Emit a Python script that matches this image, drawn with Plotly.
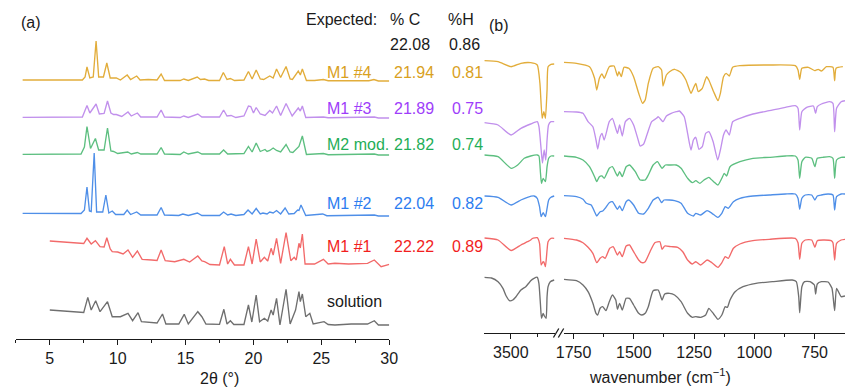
import plotly.graph_objects as go

# ================= DATA =================
# Panel (a): powder XRD patterns, (2theta [deg], intensity [a.u.]) vertices
xrd_m1_4 = [(3.0,1),(7.4,1),(7.6,4),(7.74,14),(7.95,3),(8.2,4),(8.41,40),(8.6,4),(8.95,4),(9.2,18),(9.45,3),(9.9,3),(10.2,1),(10.7,6),(10.95,1.5),(11.4,5),(11.65,1),(12.25,1.5),(12.9,1),(13.2,7),(13.45,0.5),(14.6,0.5),(14.87,2),(15.2,0.5),(15.86,4),(16.1,1.5),(16.4,2),(16.7,0.5),(17.5,0.5),(17.78,8.5),(18.05,1.5),(18.3,2.5),(18.6,0.5),(19.3,1),(19.63,9.5),(19.9,2),(20.2,11),(20.5,2),(20.75,1.5),(21.2,5),(21.45,3),(21.7,12),(22.0,3.5),(22.4,14.5),(22.7,2),(22.87,1.5),(23.3,10),(23.45,6),(23.6,12),(23.9,0.5),(24.5,0.5),(25.15,1.5),(25.5,0.3),(27.0,0.5),(28.5,0.3),(28.87,1.5),(29.2,0),(30.0,0)]
xrd_m1_3 = [(3.0,0.7),(7.4,1),(7.74,12.5),(7.95,5),(8.41,14),(8.65,4),(9.0,4.5),(9.25,17),(9.5,5),(9.7,3.5),(9.9,3.5),(10.3,1.5),(10.76,6),(11.0,2),(11.45,5),(11.7,1),(12.9,1),(13.2,8),(13.45,1),(14.6,0.5),(14.87,2),(15.2,0.5),(15.9,4),(16.2,1),(17.5,1),(17.8,8),(18.05,2),(18.35,2.5),(18.7,0.5),(19.3,2),(19.63,12),(19.8,11.5),(20.0,5),(20.2,10.5),(20.5,4),(20.85,2.5),(21.2,7.5),(21.4,5),(21.7,12),(22.0,2.5),(22.4,14.5),(22.85,2),(23.3,10),(23.45,7),(23.6,12),(23.85,0.5),(25.15,1),(25.5,0.3),(28.9,1),(29.2,0),(30.0,0)]
xrd_m2_mod = [(3.0,0.7),(7.3,1),(7.55,8),(7.74,28.5),(8.0,6.5),(8.36,16.5),(8.6,5),(9.0,5),(9.25,27),(9.5,4),(9.7,3.5),(10.0,1.5),(10.74,3),(11.0,1),(11.45,2.5),(11.7,1),(12.9,1),(13.2,7.5),(13.45,1),(14.6,0.5),(14.87,3),(15.2,1),(15.9,3),(16.2,1),(17.5,1),(17.8,5),(18.1,1),(19.3,1.5),(19.63,8.5),(19.9,3),(20.2,12),(20.5,3.5),(20.85,5.5),(21.0,3.5),(21.2,4.5),(21.45,7),(21.7,4.5),(22.0,3),(22.4,10.5),(22.7,3),(22.9,2.5),(23.35,8.5),(23.6,19),(23.9,0.5),(25.15,1.5),(25.5,0.3),(28.9,1),(29.2,0),(30.0,0)]
xrd_m1_2 = [(3.0,2.7),(7.3,2.5),(7.55,6),(7.74,29),(7.92,5),(8.05,4.5),(8.27,63),(8.45,4),(8.9,4),(9.13,21),(9.35,3),(9.6,5),(9.85,1.5),(10.45,1.5),(10.7,6),(10.95,1.5),(11.4,4),(11.7,1),(12.9,1),(13.2,8.5),(13.45,1),(14.5,0.5),(14.8,2),(15.2,0.5),(15.87,3),(16.2,0.5),(17.5,0.5),(17.8,4),(18.1,1),(18.35,2),(18.7,0.5),(19.3,1.5),(19.6,6),(19.9,2),(20.2,7.5),(20.5,2),(20.7,3),(21.0,2),(21.2,4),(21.45,3),(21.7,5.5),(22.0,2),(22.33,8),(22.6,2),(23.0,2.5),(23.25,6),(23.35,5.5),(23.5,11),(23.85,0.5),(25.1,2),(25.4,0.3),(28.9,1),(29.2,0),(30.0,0)]
xrd_m1_1 = [(5.0,24),(6.8,22.3),(7.5,21.5),(7.74,26.7),(8.05,21),(8.36,24.3),(8.7,18.3),(9.0,18),(9.2,27.3),(9.45,16),(9.6,13.3),(10.0,13),(10.4,11),(10.76,15),(11.1,7.7),(11.45,14),(11.8,5.7),(12.5,5),(12.9,4.5),(13.2,15),(13.5,4.3),(14.2,3.3),(14.87,5.7),(15.3,3),(15.9,9),(16.2,4),(16.4,3.3),(16.8,0.5),(17.5,0),(17.85,18.3),(18.1,1),(18.3,5.7),(18.6,0),(19.3,0),(19.63,18.3),(19.9,1),(20.2,26),(20.5,3),(20.8,7.7),(21.05,4),(21.3,16.7),(21.45,10),(21.7,26.7),(22.0,1.7),(22.4,32.3),(22.75,4.3),(23.0,7.7),(23.15,5),(23.35,21.7),(23.45,17),(23.6,31),(23.8,1),(24.5,1),(25.15,5.7),(25.5,1),(26.0,1.7),(27.0,1),(28.4,1.7),(28.9,5),(29.4,-1.7),(30.0,0.7)]
xrd_solution = [(5.0,15),(6.8,13.3),(7.5,12.5),(7.8,27.7),(8.05,15),(8.38,24.3),(8.7,13.3),(9.25,23.3),(9.6,8.3),(10.2,8.3),(10.76,11.7),(11.1,4.3),(11.5,12.3),(11.75,3.3),(12.5,2.3),(12.9,2),(13.3,11),(13.55,1),(14.5,1),(14.9,10.7),(15.2,1),(15.9,13.3),(16.2,8.3),(16.5,1),(17.5,0.7),(17.82,15.7),(18.05,1),(18.3,4.3),(18.55,0.5),(19.3,0.5),(19.63,20),(19.88,3),(20.2,30),(20.45,3.3),(20.8,6.7),(21.05,4),(21.3,15),(21.45,10),(21.7,26.7),(21.95,0),(22.4,35.7),(22.7,1),(23.1,15),(23.35,33.3),(23.45,23.3),(23.6,31),(23.85,8.3),(24.15,11.7),(24.4,1),(25.2,3.3),(25.5,0.5),(26.0,0),(27.2,1),(28.4,1),(28.9,4.3),(29.2,0),(30.0,0)]

# Panel (b): IR spectra, (wavenumber [cm-1], relative transmittance [a.u.])
ir_m1_4 = [(4000,0.3),(3741,-0.7),(3494,-5.7),(3309,-2.3),(3124,-1.7),(3000,-4),(2950,-22.3),(2907,-57.3),(2876,-50.7),(2846,-57.3),(2815,-29),(2796,-5.7),(2741,-3.3),(2680,-3),
           (1790,-1.3),(1738,-2.3),(1684,-5.7),(1663,-17.3),(1654,-29),(1643,-17.3),(1632,-13),(1623,-17.3),(1602,-5.7),(1582,-5),(1568,-15),(1562,-10.7),(1552,-15.7),(1541,-6.3),(1521,-7.3),(1501,-15.7),(1480,-32.3),(1464,-42.3),(1453,-39),(1440,-22.3),(1420,-7.3),(1399,-5.7),(1385,-9),(1379,-25),(1365,-14),(1352,-10.7),(1331,-8.3),(1304,-11.7),(1284,-19),(1263,-32.3),(1253,-27.3),(1243,-22.3),(1233,-30.7),(1216,-27.3),(1198,-15.7),(1189,-19),(1169,-30.7),(1151,-39.7),(1141,-32.3),(1128,-15.7),(1117,-12.3),(1104,-15),(1090,-6.3),(1060,-4.7),(938,-4),(830,-4.7),(819,-9),(812,-18.3),(803,-7.3),(776,-6.3),(749,-9.7),(735,-8.3),(722,-10),(701,-5.7),(674,-6.3),(667,-19.7),(661,-7.3),(633,-5.7)]
ir_m1_3 = [(4000,-0.7),(3741,-3),(3494,-13),(3309,-6.3),(3124,-2),(3000,0.3),(2968,-4.7),(2926,-28),(2902,-41),(2870,-28),(2839,-38),(2815,-18),(2787,-3),(2741,0.3),(2680,0.3),
           (1790,10.3),(1738,10),(1711,8.7),(1690,0.3),(1670,-4.7),(1657,-18),(1650,-27),(1640,-14.7),(1632,-11.3),(1623,-18),(1602,0.3),(1589,3.7),(1568,-11.3),(1559,-3),(1548,-14),(1535,0.3),(1518,3.7),(1501,-3),(1480,-19.7),(1474,-24),(1460,-22.3),(1446,-13),(1426,0.3),(1406,3.7),(1399,5.3),(1379,0.3),(1365,6),(1345,8.7),(1324,10.3),(1311,11),(1291,5.3),(1277,-11.3),(1263,-28),(1253,-18),(1243,-15.3),(1230,-27.3),(1216,-24.7),(1202,-11.3),(1189,-9.7),(1171,-19.7),(1152,-38),(1141,-28),(1128,-13),(1117,-8),(1104,-13),(1090,0.3),(1060,3.7),(1006,8),(938,11.3),(871,14.7),(830,16.3),(819,13.7),(812,-8),(803,10.3),(783,14.7),(755,16),(746,8.7),(739,15.3),(722,18),(688,20.3),(674,18.7),(667,-9.7),(659,13.7),(640,20.3),(624,21.3)]
ir_m2_mod = [(4000,0),(3741,-1.7),(3494,-13.3),(3370,-10),(3246,-3.3),(3124,-1),(3000,0),(2968,-1),(2939,-18.3),(2920,-28.3),(2889,-23.3),(2846,-26.7),(2815,-11.7),(2784,-3.3),(2741,-1),(2680,-1),
             (1790,-1),(1738,-2.3),(1711,-5),(1684,-11.7),(1663,-21.7),(1654,-26.7),(1643,-21.7),(1632,-21),(1623,-23.3),(1602,-13.3),(1589,-11.7),(1568,-21),(1559,-16.7),(1548,-21.7),(1532,-11.7),(1518,-10),(1494,-16.7),(1474,-25),(1453,-25),(1440,-20),(1420,-10),(1402,-6.7),(1383,-13.3),(1369,-10),(1352,-10),(1324,-10),(1304,-13.3),(1277,-23.3),(1257,-27.7),(1243,-25.7),(1226,-28.3),(1209,-25),(1189,-22.3),(1169,-26.7),(1151,-30),(1135,-23.3),(1125,-18.3),(1115,-21),(1101,-11.7),(1060,-6.7),(1006,-3.3),(938,-2.3),(871,-1),(830,-1),(819,-5),(812,-23.3),(803,-6.7),(789,-2.3),(762,-3.3),(749,-11.7),(739,-3.3),(715,-2.3),(688,-1.7),(674,-3.3),(667,-23.3),(659,-5),(640,-2.3),(624,-2.3)]
ir_m1_2 = [(4000,0),(3741,-1.3),(3494,-9),(3309,-4),(3185,-1.3),(3061,0),(3000,-2.3),(2957,-10.7),(2926,-20.7),(2889,-16.7),(2846,-20.7),(2815,-12.3),(2784,-4),(2741,-1.3),(2680,0),
           (1790,0.3),(1738,-0.7),(1711,-3.3),(1697,-7.3),(1677,-9),(1663,-15.7),(1654,-20),(1640,-15.7),(1629,-15),(1619,-12.3),(1602,-6.7),(1589,-5.7),(1568,-13.3),(1559,-10),(1548,-14.7),(1532,-5.7),(1521,-4),(1501,-9),(1480,-17.3),(1460,-18),(1440,-12.3),(1420,-4),(1399,-1.3),(1385,-6.7),(1375,-4),(1352,-4),(1331,-4.7),(1304,-7.3),(1277,-17.3),(1253,-20),(1243,-17.3),(1223,-19),(1196,-14.7),(1176,-17.3),(1152,-21.3),(1135,-17.3),(1121,-10.7),(1108,-12.3),(1087,-5.7),(1060,-2.3),(1006,0),(938,1),(871,2),(830,2),(819,-2.3),(812,-13.3),(803,-2.3),(789,1),(762,1),(749,-4),(739,0),(722,1),(694,2),(674,1),(667,-14),(659,-0.7),(640,2),(624,2)]
ir_m1_1 = [(4000,0),(3741,-2),(3494,-12.5),(3309,-7),(3185,-3.7),(3124,-2),(3092,-0.5),(3000,0.3),(2957,-5.3),(2926,-27),(2889,-23.7),(2876,-24),(2846,-28.7),(2815,-12),(2796,-3.7),(2741,-0.3),(2680,-0.3),
           (1790,-0.3),(1738,-2),(1711,-4.7),(1690,-9.3),(1670,-15.3),(1654,-24.7),(1640,-20.3),(1629,-18.7),(1619,-20.3),(1600,-10.3),(1586,-8.7),(1568,-17),(1559,-13.7),(1548,-18.7),(1532,-8),(1518,-7),(1501,-13.7),(1480,-22),(1467,-24.7),(1453,-23.7),(1433,-13.7),(1413,-4.7),(1392,-3.7),(1383,-11.3),(1372,-8),(1345,-8.7),(1318,-9.3),(1297,-13.7),(1277,-22),(1257,-26),(1243,-23.7),(1223,-27),(1196,-22),(1176,-24.7),(1151,-29.3),(1135,-24.7),(1121,-18.7),(1108,-20.3),(1087,-10.3),(1060,-6),(1006,-2.7),(938,-1.3),(830,-0.3),(819,-4.7),(812,-21.3),(803,-5.3),(789,-2),(762,-2),(749,-9.3),(739,-2.7),(715,-2),(681,-2.7),(674,-4.7),(667,-22),(659,-5.3),(640,-2),(624,-1.3)]
ir_solution = [(4000,-0.3),(3865,-1),(3741,-4.7),(3648,-11.3),(3587,-19),(3524,-23.7),(3463,-23),(3402,-19.7),(3309,-13),(3217,-9.7),(3154,-5.7),(3124,-3.7),(3061,-1.3),(3000,-0.3),(2969,-6.3),(2939,-28),(2920,-41.3),(2889,-36.3),(2865,-39),(2833,-41.3),(2815,-19.7),(2796,-9.7),(2754,-4.7),(2680,-3),
               (1790,-2.3),(1738,-3.7),(1711,-8),(1690,-14.7),(1670,-26.3),(1657,-36.3),(1650,-38),(1640,-31.3),(1629,-29.7),(1616,-33.7),(1602,-24.7),(1589,-18),(1575,-23),(1568,-32.3),(1559,-26.3),(1548,-33),(1532,-21.3),(1518,-21.3),(1501,-28),(1480,-36.3),(1467,-38),(1453,-36.3),(1440,-29.7),(1420,-13.7),(1399,-13),(1383,-23),(1372,-17),(1352,-16.3),(1331,-18),(1304,-24.7),(1277,-36.3),(1257,-40.3),(1243,-39.7),(1223,-40.3),(1202,-38),(1189,-31.3),(1169,-37),(1151,-42.3),(1135,-38),(1121,-29.7),(1112,-30.3),(1101,-23),(1080,-14.7),(1047,-9.7),(993,-6.3),(925,-4.7),(843,-3),(826,-4.7),(816,-19.7),(812,-35.7),(803,-9.7),(792,-4.7),(769,-4.7),(751,-8),(746,-17),(739,-7),(722,-4.7),(694,-5),(678,-11.3),(667,-33.7),(659,-11.3),(640,-19.7),(624,-19)]

# Labels / elemental analysis
sample_names = ["M1 #4", "M1 #3", "M2 mod.", "M1 #2", "M1 #1", "solution"]
pct_C = ["21.94", "21.89", "21.82", "22.04", "22.22", ""]
pct_H = ["0.81", "0.75", "0.74", "0.82", "0.89", ""]
expected_C = "22.08"
expected_H = "0.86"
xrd_ticks = [5, 10, 15, 20, 25, 30]
ir_ticks_left = [3500]
ir_ticks_right = [1750, 1500, 1250, 1000, 750]

# ================= STYLE =================
W, H = 854, 387
MB = 48
PH = H - MB  # plot-area height in px
FONT = "Arial, 'Liberation Sans', sans-serif"
line_colors = ["#E2AD3B", "#C190EC", "#5DBF80", "#4F8FE8", "#F26A6A", "#6F6F6F"]
text_colors = ["#D9A11E", "#9E3DFA", "#1FAE58", "#2C7DF0", "#F21E1E", "#1a1a1a"]
xrd_sets = [xrd_m1_4, xrd_m1_3, xrd_m2_mod, xrd_m1_2, xrd_m1_1, xrd_solution]
ir_sets = [ir_m1_4, ir_m1_3, ir_m2_mod, ir_m1_2, ir_m1_1, ir_solution]
xrd_offsets = [258, 221, 184, 123, 74, 14]
ir_offsets = [272, 211, 178, 137, 95, 56]
label_y_px = [72.5, 108.3, 144, 203.3, 246.5, 301.7]
LW = 1.35


def px(x):
    return x / W


def py(y):
    return (PH - y) / PH


fig = go.Figure()

for data, col, off in zip(xrd_sets, line_colors, xrd_offsets):
    xs = [p[0] for p in data]
    ys = [p[1] + off for p in data]
    fig.add_trace(go.Scatter(x=xs, y=ys, mode="lines", xaxis="x", yaxis="y",
                             line=dict(color=col, width=LW), hoverinfo="skip", showlegend=False))

for data, col, off in zip(ir_sets, line_colors, ir_offsets):
    left = [p for p in data if p[0] > 2000]
    right = [p for p in data if p[0] < 2000]
    fig.add_trace(go.Scatter(x=[p[0] for p in left], y=[p[1] + off for p in left], mode="lines",
                             xaxis="x2", yaxis="y2", line=dict(color=col, width=LW, shape="spline", smoothing=0.5),
                             hoverinfo="skip", showlegend=False))
    fig.add_trace(go.Scatter(x=[p[0] for p in right], y=[p[1] + off for p in right], mode="lines",
                             xaxis="x3", yaxis="y2", line=dict(color=col, width=LW, shape="spline", smoothing=0.5),
                             hoverinfo="skip", showlegend=False))

axis_common = dict(showline=True, linecolor="#1a1a1a", linewidth=1.3, ticks="outside", ticklen=5,
                   tickwidth=1.3, tickcolor="#1a1a1a", showgrid=False, zeroline=False,
                   tickfont=dict(family=FONT, size=16, color="#1a1a1a"), fixedrange=True)
minor_common = dict(ticks="outside", ticklen=3, tickwidth=1.3, tickcolor="#1a1a1a", showgrid=False)

fig.update_layout(
    width=W, height=H,
    margin=dict(l=0, r=0, t=0, b=MB, pad=0),
    paper_bgcolor="white", plot_bgcolor="white",
    font=dict(family=FONT, size=16, color="#1a1a1a"),
    xaxis=dict(domain=[px(8), px(389)], range=[2.5, 30], tickmode="array", tickvals=xrd_ticks,
               anchor="y", minor=dict(dtick=2.5, tick0=2.5, **minor_common), **axis_common),
    yaxis=dict(domain=[0, 1], range=[0, PH], visible=False, fixedrange=True),
    xaxis2=dict(domain=[px(486), px(558)], range=[4000, 2667], tickmode="array", tickvals=ir_ticks_left,
                anchor="y2", minor=dict(tickmode="array", tickvals=[3000], **minor_common), **axis_common),
    xaxis3=dict(domain=[px(567), 1.0], range=[1791, 624], tickmode="array", tickvals=ir_ticks_right,
                anchor="y2", minor=dict(tickmode="array", tickvals=[1625, 1375, 1125, 875], **minor_common),
                **axis_common),
    yaxis2=dict(domain=[(PH - 333) / PH, 1], range=[0, 333], visible=False, fixedrange=True),
)

# axis break marks "//"
for x0 in (556.5, 561.5):
    fig.add_shape(type="line", xref="paper", yref="paper", x0=px(x0), y0=py(337.5), x1=px(x0 + 5.5), y1=py(328.5),
                  line=dict(color="#1a1a1a", width=1.3))

ann = []


def add_text(text, x, y, color="#1a1a1a", xanchor="left"):
    ann.append(dict(text=text, x=px(x), y=py(y), xref="paper", yref="paper", xanchor=xanchor,
                    yanchor="middle", showarrow=False, font=dict(family=FONT, size=16, color=color)))


add_text("(a)", 11, 23)
add_text("(b)", 489, 25)
add_text("Expected:", 302, 19)
add_text("% C", 388, 19)
add_text("%H", 447, 19)
add_text(expected_C, 388, 44)
add_text(expected_H, 448, 44)
for name, c, h, col, y in zip(sample_names, pct_C, pct_H, text_colors, label_y_px):
    add_text(name, 323, y, col)
    if c:
        add_text(c, 392, y, col)
    if h:
        add_text(h, 451, y, col)

add_text("2θ (°)", 216, 379, xanchor="center")
add_text("wavenumber (cm<sup>−1</sup>)", 665, 376, xanchor="center")

fig.update_layout(annotations=ann)
fig.write_html("out.html", config={"displayModeBar": False},
               post_script="document.body.style.margin='0';document.body.style.overflow='hidden';")
